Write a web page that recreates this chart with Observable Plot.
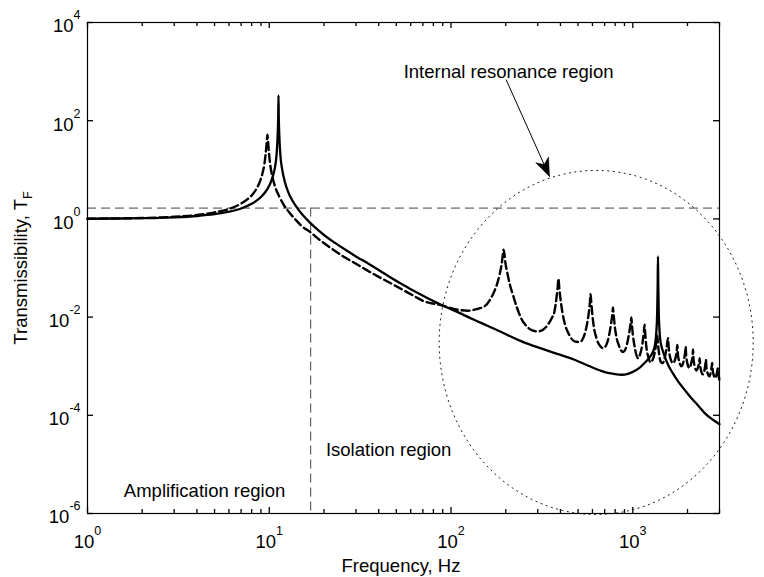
<!DOCTYPE html>
<html><head><meta charset="utf-8">
<script src="https://cdn.jsdelivr.net/npm/d3@7"></script>
<script src="https://cdn.jsdelivr.net/npm/@observablehq/plot@0.6"></script>
<style>html,body{margin:0;padding:0;background:#fff;}</style>
</head><body><div id="chart"></div>
<script>
// ---- data ----
const solidFreq = [1, 1.5, 2, 2.5, 3, 4, 5, 6, 7, 8,
  9, 9.7, 10.2, 10.6, 10.85, 11.0, 11.12, 11.2, 11.24, 11.28,
  11.36, 11.5, 11.8, 12.2, 12.8, 13.5, 14.5, 15.5, 16.9, 18.5,
  20, 23, 26, 30, 35, 40, 47, 55, 63, 71,
  80, 88, 100, 115, 134, 160, 205, 250, 313, 380,
  478, 570, 670, 730, 800, 865, 940, 1023, 1100, 1161,
  1220, 1265, 1300, 1330, 1350, 1362, 1370, 1376, 1382, 1390,
  1402, 1420, 1436, 1480, 1563, 1660, 1775, 1930, 2100, 2300,
  2487, 2750, 3000];
const solidT = [1.008, 1.018, 1.033, 1.05, 1.077, 1.145, 1.246, 1.40, 1.63, 2.03,
  2.79, 3.9, 5.6, 8.8, 14, 23, 50, 120, 327, 120,
  50, 21, 9.8, 5.6, 3.3, 2.26, 1.53, 1.13, 0.81, 0.6,
  0.47, 0.325, 0.24, 0.172, 0.123, 0.091, 0.0625, 0.0445, 0.0335, 0.0265,
  0.0212, 0.0178, 0.0145, 0.0115, 0.0088, 0.0066, 0.0043, 0.0031, 0.0023, 0.0018,
  0.00135, 0.00102, 0.0008, 0.00073, 0.00069, 0.00067, 0.0007, 0.0008, 0.00096, 0.00116,
  0.00142, 0.0017, 0.0021, 0.003, 0.0055, 0.012, 0.04, 0.172, 0.04, 0.012,
  0.0055, 0.0032, 0.0026, 0.0018, 0.00107, 0.00072, 0.00049, 0.00033, 0.000224, 0.000155,
  0.000111, 0.000082, 0.000066];

const dashedFreq = [1, 1.5, 2, 2.5, 3, 4, 5, 6, 7, 7.6,
  8, 8.5, 8.9, 9.2, 9.4, 9.55, 9.65, 9.72, 9.77, 9.82,
  9.9, 10.0, 10.15, 10.4, 10.8, 11.3, 12, 13, 14, 15,
  16.9, 19, 22, 26, 30, 35, 40, 47, 55, 63,
  71, 80, 88, 100, 112, 124, 138, 153, 165, 173,
  180, 185, 190, 195, 199, 205, 211, 219, 230, 243,
  258, 276, 300, 322, 341, 358, 371, 380, 386, 390,
  394, 400, 410, 425, 445, 478, 510, 540, 560, 574,
  581, 586, 591, 598, 610, 630, 660, 685, 715, 740,
  760, 771, 778, 785, 795, 810, 840, 883, 915, 945,
  965, 977, 982, 988, 1000, 1020, 1069, 1100, 1130, 1150,
  1161, 1170, 1185, 1220, 1250, 1300, 1335, 1355, 1365, 1375,
  1395, 1430, 1460, 1500, 1535, 1563, 1575, 1600, 1666, 1720,
  1745, 1758, 1775, 1854, 1915, 1940, 1954, 1970, 2050, 2110,
  2135, 2145, 2162, 2240, 2300, 2325, 2333, 2350, 2430, 2495,
  2515, 2525, 2545, 2640, 2700, 2725, 2735, 2755, 2850, 2900,
  2925, 2944, 2965, 3000];
const dashedT = [1.01, 1.024, 1.044, 1.07, 1.104, 1.20, 1.355, 1.60, 2.05, 2.53,
  3.0, 4.1, 5.9, 8.8, 13, 21, 31, 44, 52, 44,
  30, 19, 11.8, 7.3, 4.4, 2.95, 1.95, 1.3, 0.95, 0.73,
  0.53, 0.37, 0.25, 0.165, 0.122, 0.087, 0.066, 0.048, 0.035, 0.0265,
  0.021, 0.0188, 0.0176, 0.0152, 0.0139, 0.0135, 0.0145, 0.0166, 0.0235, 0.0334,
  0.05, 0.073, 0.12, 0.236, 0.13, 0.073, 0.045, 0.0286, 0.016, 0.0095,
  0.0068, 0.0055, 0.0051, 0.0056, 0.0070, 0.0095, 0.0131, 0.024, 0.04, 0.0605,
  0.04, 0.024, 0.0125, 0.0068, 0.0045, 0.0032, 0.0031, 0.0042, 0.0072, 0.013,
  0.02, 0.0294, 0.02, 0.012, 0.0065, 0.0038, 0.0026, 0.00234, 0.0027, 0.0042,
  0.0075, 0.011, 0.0158, 0.011, 0.0068, 0.0042, 0.0026, 0.00194, 0.0023, 0.0038,
  0.006, 0.0085, 0.00986, 0.0075, 0.0045, 0.0027, 0.00146, 0.0018, 0.0029, 0.0048,
  0.0070, 0.0048, 0.0027, 0.0015, 0.0012, 0.0015, 0.0024, 0.0036, 0.0042, 0.0030,
  0.0018, 0.0012, 0.00115, 0.0015, 0.0024, 0.0037, 0.0025, 0.0016, 0.00115, 0.0015,
  0.0021, 0.0027, 0.0016, 0.0010, 0.0014, 0.0019, 0.0025, 0.0015, 0.00092, 0.0013,
  0.0017, 0.0022, 0.0013, 0.00082, 0.00105, 0.0013, 0.00146, 0.0010, 0.00068, 0.00095,
  0.0012, 0.00136, 0.0009, 0.00062, 0.00085, 0.00105, 0.00116, 0.0008, 0.00057, 0.00072,
  0.00085, 0.00091, 0.0007, 0.00049];

const xMajorTicks = [1, 10, 100, 1000];
const xMinorTicks = [2, 3, 4, 5, 6, 7, 8, 9, 20, 30, 40, 50, 60, 70, 80, 90,
  200, 300, 400, 500, 600, 700, 800, 900, 2000, 3000];
const yMajorTicks = [1e-6, 1e-4, 1e-2, 1, 1e2, 1e4];

const crossoverFreq = 16.9;      // vertical dashed guide
const crossoverLevel = 1.66;     // horizontal dashed guide
const xTitle = "Frequency, Hz";
const yTitle = "Transmissibility, T_F";
const regionLabels = ["Amplification region", "Isolation region", "Internal resonance region"];
const regionFreq = [1.585, 20.5, 54.9];
const regionT = [2.2e-6, 1.46e-5, 738];
const arrowFrom = {f: 201, T: 684};
const arrowTo = {f: 348, T: 7.34};
const circleCenter = {f: 629, T: 0.00305};

// ---- build tables ----
const solid = solidFreq.slice(0, Math.min(solidFreq.length, solidT.length)).map((f, i) => ({f, T: solidT[i]}));
const dashed = dashedFreq.slice(0, Math.min(dashedFreq.length, dashedT.length)).map((f, i) => ({f, T: dashedT[i]}));
const labels = regionLabels.map((text, i) => ({text, f: regionFreq[i], T: regionT[i]}));

const W = 764, H = 577, mL = 87, mR = 45, mT = 22, mB = 64;
const fw = W - mL - mR, fh = H - mT - mB;
const ink = "#000";
const FS = 18.5;

const ellipseSymbol = {draw(ctx) {
  const rx = 157, ry = 172, k = 0.5523;
  ctx.moveTo(rx, 0);
  ctx.bezierCurveTo(rx, k * ry, k * rx, ry, 0, ry);
  ctx.bezierCurveTo(-k * rx, ry, -rx, k * ry, -rx, 0);
  ctx.bezierCurveTo(-rx, -k * ry, -k * rx, -ry, 0, -ry);
  ctx.bezierCurveTo(k * rx, -ry, rx, -k * ry, rx, 0);
  ctx.closePath();
}};
const headSymbol = {draw(ctx) {
  ctx.moveTo(0, 0);
  ctx.lineTo(-7, -18);
  ctx.lineTo(0, -13);
  ctx.lineTo(7, -18);
  ctx.closePath();
}};

const powFmt = d => `10^${Math.round(Math.log10(d))}`;

const svg = Plot.plot({
  width: W, height: H,
  marginLeft: mL, marginRight: mR, marginTop: mT, marginBottom: mB,
  style: {fontFamily: "'Liberation Sans', Arial, Helvetica, sans-serif", fontSize: FS + "px", background: "#fff", color: ink, overflow: "visible"},
  x: {type: "log", domain: [1, 3000], label: null},
  y: {type: "log", domain: [1e-6, 1e4], label: null},
  marks: [
    // guides
    Plot.ruleY([crossoverLevel], {stroke: "#444", strokeWidth: 1, strokeDasharray: "9,5"}),
    Plot.ruleX([{f: crossoverFreq, y1: crossoverLevel, y2: 1e-6}], {x: "f", y1: "y1", y2: "y2", stroke: "#444", strokeWidth: 1, strokeDasharray: "9,5"}),
    // curves
    Plot.line(dashed, {x: "f", y: "T", stroke: ink, strokeWidth: 2.4, strokeDasharray: "8,4", curve: "monotone-x", strokeLinejoin: "round"}),
    Plot.line(solid, {x: "f", y: "T", stroke: ink, strokeWidth: 2.3, curve: "monotone-x", strokeLinejoin: "round"}),
    // internal resonance ellipse and arrow
    Plot.dot([circleCenter], {x: "f", y: "T", symbol: ellipseSymbol, fill: "none", stroke: "#222", strokeWidth: 1, strokeDasharray: "2,3.5"}),
    Plot.link([{x1: arrowFrom.f, y1: arrowFrom.T, x2: arrowTo.f, y2: arrowTo.T}], {x1: "x1", y1: "y1", x2: "x2", y2: "y2", stroke: ink, strokeWidth: 1}),
    Plot.dot([arrowTo], {x: "f", y: "T", symbol: headSymbol, fill: ink, stroke: ink, strokeWidth: 0.5, rotate: -24}),
    // region labels
    Plot.text(labels, {x: "f", y: "T", text: "text", textAnchor: "start", lineAnchor: "bottom", fill: ink, fontSize: FS}),
    // frame and inward ticks
    Plot.frame({stroke: ink, strokeWidth: 1.2}),
    Plot.ruleX(xMajorTicks, {insetTop: fh - 6, stroke: ink, strokeWidth: 1.3}),
    Plot.ruleX(xMajorTicks, {insetBottom: fh - 6, stroke: ink, strokeWidth: 1.3}),
    Plot.ruleX(xMinorTicks, {insetTop: fh - 4, stroke: ink, strokeWidth: 1.3}),
    Plot.ruleX(xMinorTicks, {insetBottom: fh - 4, stroke: ink, strokeWidth: 1.3}),
    Plot.ruleY(yMajorTicks, {insetRight: fw - 6, stroke: ink, strokeWidth: 1.3}),
    Plot.ruleY(yMajorTicks, {insetLeft: fw - 6, stroke: ink, strokeWidth: 1.3}),
    // axes (labels only)
    Plot.axisX(xMajorTicks, {tickSize: 0, tickPadding: 21, tickFormat: powFmt, label: null, fill: ink}),
    Plot.axisY(yMajorTicks, {tickSize: 0, tickPadding: 7, dy: 4, tickFormat: powFmt, label: null, fill: ink}),
    // axis titles
    Plot.text([xTitle], {text: d => d, frameAnchor: "bottom", lineAnchor: "bottom", dy: 58.7, dx: -2.5, fill: ink}),
    Plot.text([yTitle], {text: d => d, frameAnchor: "left", rotate: -90, lineAnchor: "bottom", textAnchor: "middle", dx: -61, dy: 0, fill: ink})
  ]
});

// superscripts / subscripts as real text
d3.select(svg).selectAll("text").each(function() {
  const t = this.textContent;
  if (t.includes("^")) {
    const [base, sup] = t.split("^");
    this.textContent = base;
    d3.select(this).append("tspan").attr("dy", -13).attr("font-size", "12.5px").text(sup);
  } else if (t.includes("_")) {
    const [base, sub] = t.split("_");
    this.textContent = base;
    d3.select(this).append("tspan").attr("dy", 5).attr("font-size", "12.5px").text(sub);
  }
});

document.getElementById("chart").appendChild(svg);
</script>
</body></html>
